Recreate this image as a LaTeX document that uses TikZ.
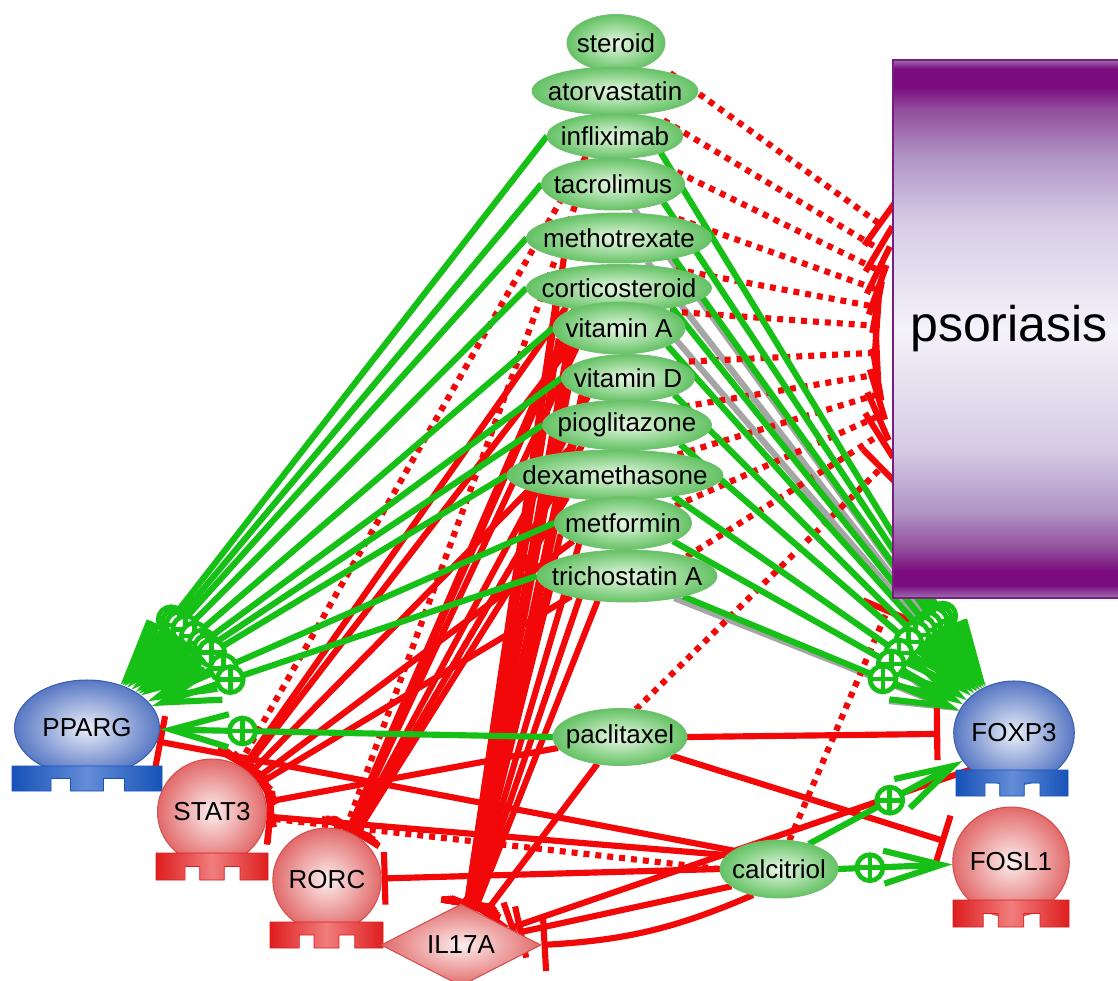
\documentclass[tikz,border=0pt]{standalone}
\usepackage{fontspec}
\setmainfont{Liberation Sans}
\usetikzlibrary{shapes.geometric,arrows.meta,decorations.markings}
\pgfdeclarelayer{bgl}
\pgfdeclarelayer{edges}
\pgfsetlayers{bgl,edges,main}

\definecolor{actg}{RGB}{22,192,22}
\definecolor{inhr}{RGB}{242,8,8}
\definecolor{unkg}{RGB}{165,165,165}
\definecolor{drugin}{RGB}{232,248,228}
\definecolor{drugout}{RGB}{100,194,100}
\definecolor{drugedge}{RGB}{115,190,115}
\definecolor{bluein}{RGB}{234,238,249}
\definecolor{blueout}{RGB}{88,120,196}
\definecolor{bluedge}{RGB}{60,95,175}
\definecolor{redin}{RGB}{253,238,238}
\definecolor{redout}{RGB}{226,106,106}
\definecolor{rededge}{RGB}{210,80,80}
\definecolor{bbd}{RGB}{22,82,184}
\definecolor{bbl}{RGB}{100,140,215}
\definecolor{rbd}{RGB}{222,30,30}
\definecolor{rbl}{RGB}{240,125,125}
\definecolor{psA}{RGB}{160,112,176}
\definecolor{psB}{RGB}{122,12,126}
\definecolor{psC}{RGB}{146,76,156}
\definecolor{psD}{RGB}{176,148,196}
\definecolor{psE}{RGB}{214,204,229}
\definecolor{psF}{RGB}{244,242,250}
\definecolor{psedge}{RGB}{120,30,128}

\pgfdeclareverticalshading{psorshade}{100bp}{color(0bp)=(psA); color(25bp)=(psA); color(26.2bp)=(psB); color(27.5bp)=(psB); color(29.5bp)=(psC); color(33bp)=(psD); color(39bp)=(psE); color(50bp)=(psF); color(60bp)=(psE); color(66bp)=(psD); color(70.5bp)=(psC); color(72.5bp)=(psB); color(74.2bp)=(psB); color(75bp)=(psA); color(100bp)=(psA)}

\newcommand\lblfont{\fontsize{14.8}{16}\selectfont}
\newcommand\protbase[6]{%
  \path[draw=#5, line width=0.4pt, left color=#5, right color=#5, middle color=#6]
  (#1,#2) -- ++(#3,0) -- ++(0,#4) -- ++({-0.25*#3},0) -- ++(0,{-0.5*#4})
  -- ++({-0.14*#3},0) -- ++(0,{0.5*#4}) -- ++({-0.22*#3},0) -- ++(0,{-0.5*#4})
  -- ++({-0.13*#3},0) -- ++(0,{0.5*#4}) -- ++({-0.26*#3},0) -- cycle;}

\tikzset{
  drug/.style={ellipse, draw=drugedge, line width=0.5pt, inner color=drugin, outer color=drugout, inner sep=0pt, outer sep=0pt},
  lbl/.style={font=\lblfont, inner sep=0pt},
  bluebody/.style={ellipse, draw=bluedge, line width=0.6pt, inner color=bluein, outer color=blueout, inner sep=0pt, font=\lblfont},
  redbody/.style={ellipse, draw=rededge, line width=0.6pt, inner color=redin, outer color=redout, inner sep=0pt, font=\lblfont},
  act/.style={draw=actg, line width=3.5pt, -{Straight Barb[length=1.15cm,width=0.66cm]},
    postaction={decorate},
    decoration={markings, mark=at position -1.65cm with {\pgftransformresetnontranslations
      \draw[actg,-,solid,line width=2.7pt,fill=white] (0cm,0cm) circle[radius=0.26cm];
      \draw[actg,-,solid,line width=2.7pt] (-0.26cm,0cm) -- (0.26cm,0cm) (0cm,-0.26cm) -- (0cm,0.26cm);}}},
  unk/.style={draw=unkg, line width=3.5pt, -{Straight Barb[length=1.15cm,width=0.66cm]},
    postaction={decorate},
    decoration={markings, mark=at position -1.65cm with {
      \draw[unkg,-,solid,line width=2.7pt,fill=white] (0cm,0cm) circle[radius=0.22cm];}}},
  inh/.style={draw=inhr, line width=3.5pt, -{Bar[width=1.05cm]}},
  inhdot/.style={inh, dash pattern=on 3.4pt off 3.4pt},
}

\begin{document}
\begin{tikzpicture}[x=0.02cm, y=-0.02cm]
\useasboundingbox (0,0) rectangle (1118,980);
\begin{pgfonlayer}{bgl}
\fill[white] (0,0) rectangle (1118,980);
\end{pgfonlayer}

% drug nodes
\node[drug, minimum width=1.96cm, minimum height=1.14cm, label={[lbl]center:steroid}] (steroid) at (616,43) {};
\node[drug, minimum width=3.32cm, minimum height=0.96cm, label={[lbl]center:atorvastatin}] (atorvastatin) at (615,91) {};
\node[drug, minimum width=2.72cm, minimum height=0.9cm, label={[lbl]center:infliximab}] (infliximab) at (615,136) {};
\node[drug, minimum width=2.86cm, minimum height=1.04cm, label={[lbl]center:tacrolimus}] (tacrolimus) at (613,184) {};
\node[drug, minimum width=3.7cm, minimum height=1.0cm, label={[lbl]center:methotrexate}] (methotrexate) at (619,238) {};
\node[drug, minimum width=3.7cm, minimum height=0.94cm, label={[lbl]center:corticosteroid}] (corticosteroid) at (619,288) {};
\node[drug, minimum width=2.64cm, minimum height=1.04cm, label={[lbl]center:vitamin A}] (vitaminA) at (619,328) {};
\node[drug, minimum width=2.66cm, minimum height=0.94cm, label={[lbl]center:vitamin D}] (vitaminD) at (628,378) {};
\node[drug, minimum width=3.38cm, minimum height=1.0cm, label={[lbl]center:pioglitazone}] (pioglitazone) at (627,425) {};
\node[drug, minimum width=4.32cm, minimum height=1.0cm, label={[lbl]center:dexamethasone}] (dexamethasone) at (615,475) {};
\node[drug, minimum width=2.74cm, minimum height=1.06cm, label={[lbl]center:metformin}] (metformin) at (623,523) {};
\node[drug, minimum width=3.6cm, minimum height=1.04cm, label={[lbl]center:trichostatin A}] (trichostatinA) at (627,576) {};
\node[drug, minimum width=2.68cm, minimum height=1.14cm, label={[lbl]center:paclitaxel}] (paclitaxel) at (620,737) {};
\node[drug, minimum width=2.36cm, minimum height=1.16cm, label={[lbl]center:calcitriol}] (calcitriol) at (779,869) {};

% disease
\node[rectangle, draw=psedge, line width=0.8pt, shade, shading=psorshade, minimum width=4.64cm, minimum height=10.76cm, inner sep=0pt, font=\fontsize{28.5}{30}\selectfont] (psoriasis) at (1009,329) {psoriasis};

% proteins
\node[bluebody, minimum width=2.9cm, minimum height=1.92cm] (PPARG) at (87,728) {PPARG};
\protbase{12}{766}{150}{25}{bbd}{bbl}
\node[bluebody, minimum width=2.24cm, minimum height=2.08cm] (FOXP3) at (1014,733) {FOXP3};
\protbase{956}{770}{112}{26}{bbd}{bbl}
\node[redbody, minimum width=2.12cm, minimum height=2.12cm] (STAT3) at (212,812) {STAT3};
\protbase{156}{853}{112}{27}{rbd}{rbl}
\node[redbody, minimum width=2.08cm, minimum height=2.08cm] (RORC) at (327,880) {RORC};
\protbase{270}{922}{113}{26}{rbd}{rbl}
\node[redbody, minimum width=2.2cm, minimum height=2.2cm] (FOSL1) at (1011,862) {FOSL1};
\protbase{953}{900}{116}{27}{rbd}{rbl}
\node[diamond, draw=rededge, line width=0.6pt, inner color=redin, outer color=redout, inner sep=0pt, minimum width=3.2cm, minimum height=1.64cm, label={[lbl]center:IL17A}] (IL17A) at (461,945) {};

\begin{pgfonlayer}{edges}
% unknown (gray)
\foreach \d/\a in {tacrolimus/-50, methotrexate/-40, corticosteroid/-35, trichostatinA/-25}
  \draw[unk] (\d.\a) -- (FOXP3);
% dotted inhibition to psoriasis
\foreach \d/\s in {atorvastatin/1.92, infliximab/1.44, tacrolimus/1.04, methotrexate/0.68, corticosteroid/0.38, vitaminA/0.04, vitaminD/-0.46, pioglitazone/-0.86, dexamethasone/-1.22, metformin/-1.62, trichostatinA/-1.96}
  \draw[inhdot, shorten >=0.25cm] (\d.18) -- ([yshift=\s cm]psoriasis.west);
\draw[inhdot, shorten >=0.25cm] (paclitaxel.60) -- ([yshift=-2.56cm]psoriasis.west);
\draw[inhdot, shorten >=0.2cm] (calcitriol.70) -- (psoriasis.south west);
% dotted inhibition to genes
\draw[inhdot] (infliximab.215) -- (STAT3);
\draw[inhdot] (tacrolimus.210) -- (RORC);
\draw[inhdot] (pioglitazone.205) -- (RORC);
\draw[inhdot] (calcitriol.180) -- (STAT3);
% solid inhibition
\foreach \d/\a in {methotrexate/200, corticosteroid/195, corticosteroid/205, vitaminA/190, vitaminA/200, vitaminD/190, vitaminD/200, pioglitazone/190, pioglitazone/200, dexamethasone/190, dexamethasone/200, metformin/190, metformin/205, trichostatinA/190, trichostatinA/205, trichostatinA/220}
  \draw[inh] (\d.\a) -- (IL17A);
\draw[inh] (paclitaxel.230) -- (IL17A);
\draw[inh] (calcitriol.200) -- (IL17A);
\draw[inh] (calcitriol.225) to[bend left=10] (IL17A.east);
\draw[inh] (FOXP3.220) -- (IL17A);
\foreach \d in {corticosteroid, vitaminA, pioglitazone, metformin, trichostatinA}
  \draw[inh] (\d.200) -- (STAT3);
\draw[inh] (paclitaxel.190) -- (STAT3);
\draw[inh] (calcitriol.165) -- (STAT3);
\foreach \d/\a in {corticosteroid/205, vitaminA/205, vitaminA/195, vitaminD/205, dexamethasone/205, pioglitazone/205}
  \draw[inh] (\d.\a) -- (RORC);
\draw[inh] (calcitriol.west) -- (RORC);
\draw[inh] (calcitriol.158) -- (PPARG);
\draw[inh, shorten >=0.26cm] (paclitaxel.east) -- (FOXP3);
\draw[inh, shorten >=0.2cm] (paclitaxel.-20) -- (FOSL1);
% activation
\foreach \d in {infliximab, tacrolimus, methotrexate, corticosteroid, vitaminA, vitaminD, pioglitazone, dexamethasone, metformin, trichostatinA}
  {\draw[act] (\d.west) -- (PPARG); \draw[act] (\d.-20) -- (FOXP3);}
\draw[act] (paclitaxel.west) -- (PPARG);
\draw[act] (calcitriol.40) -- (FOXP3);
\draw[act] (calcitriol.east) -- (FOSL1);
\end{pgfonlayer}
\end{tikzpicture}
\end{document}
